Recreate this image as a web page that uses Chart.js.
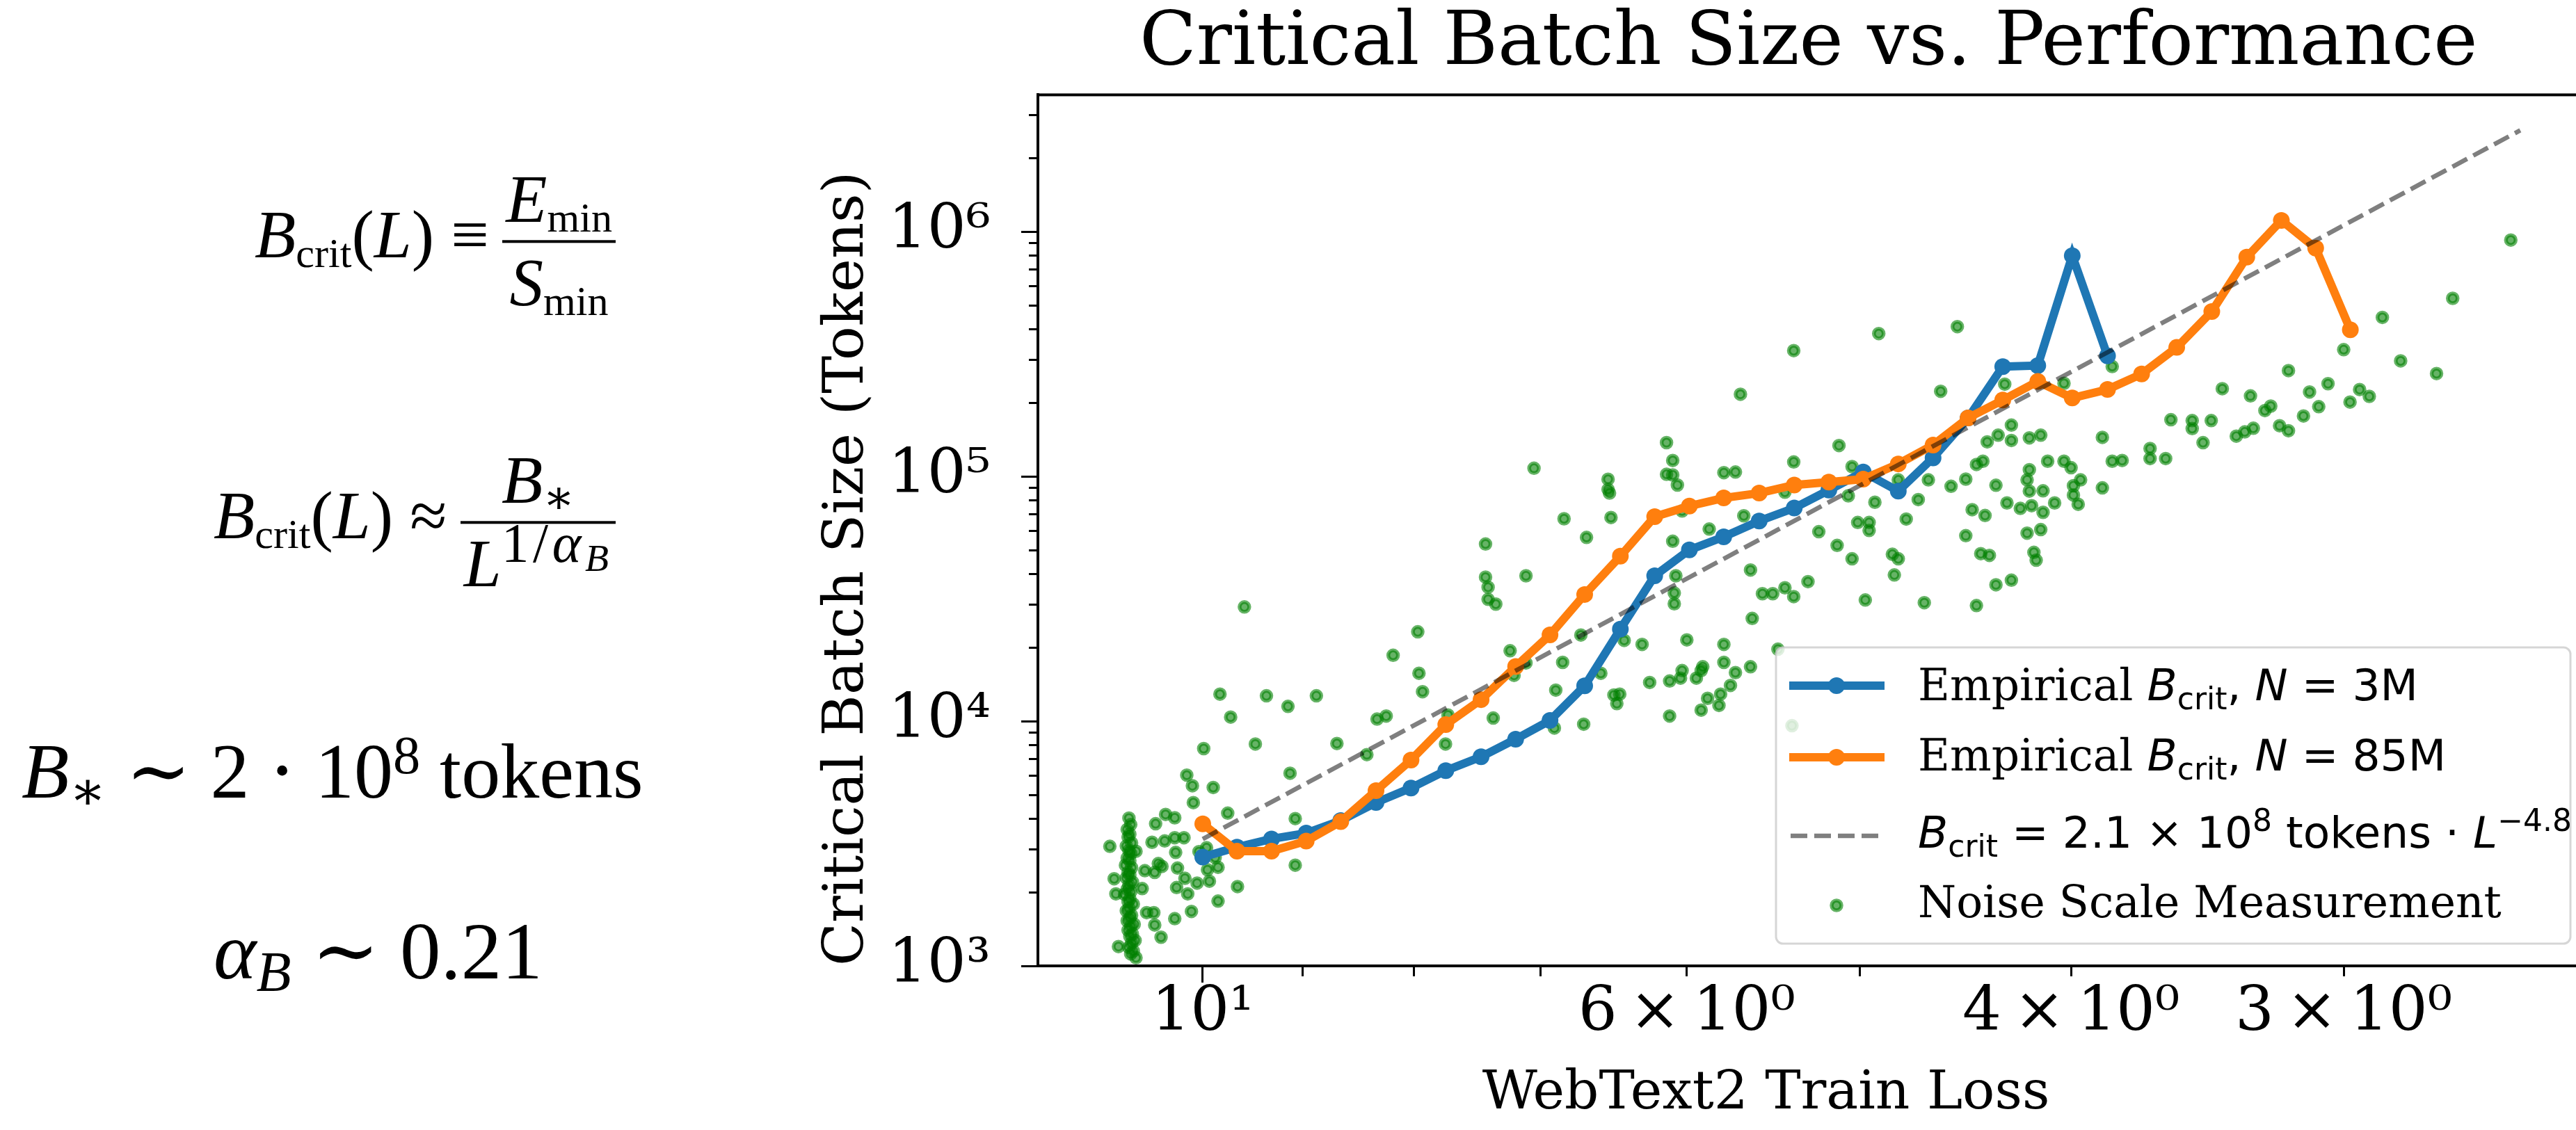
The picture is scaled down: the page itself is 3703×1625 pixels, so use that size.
<!DOCTYPE html>
<html>
<head>
<meta charset="utf-8">
<script src="https://cdn.jsdelivr.net/npm/chart.js@4.4.0/dist/chart.umd.min.js"></script>
<style>
html, body { margin:0; padding:0; background:#fff; width:3703px; height:1625px; overflow:hidden; }
#wrap { position:absolute; left:1150px; top:0; width:2570px; height:1625px; }
.eq { position:absolute; font-family:'Liberation Serif','DejaVu Serif',serif; font-size:112px; line-height:1; white-space:nowrap; color:#000; }
.eq.small { font-size:97px; }
.eq.big { font-size:117px; }
.eq sub, .eq sup { font-size:0.7em; line-height:0; }
.eq sub { vertical-align:-0.22em; }
.eq sup { vertical-align:0.45em; }
.eq .tight { font-size:0.62em; }
.eq .wide { font-size:0.82em; letter-spacing:0.07em; }
.row { display:flex; align-items:center; transform:translateY(-50%); }
.lhs { position:relative; top:-0.09em; }
.frac { display:inline-flex; flex-direction:column; align-items:center; margin-left:0.2em; }
.frac .bar { align-self:stretch; height:4px; background:#000; margin:0.1em 0; }
.frac > span { padding:0 0.05em; }
</style>
</head>
<body>
<div class="eq small row" style="left:366px; top:347px;">
  <span class="lhs"><i>B</i><sub class="tight">crit</sub>(<i>L</i>) &#8801;</span>
  <span class="frac"><span><i>E</i><sub class="tight">min</sub></span><span class="bar"></span><span><i>S</i><sub class="tight">min</sub></span></span>
</div>
<div class="eq small row" style="left:307px; top:751px;">
  <span class="lhs"><i>B</i><sub class="tight">crit</sub>(<i>L</i>) &#8776;</span>
  <span class="frac"><span><i>B</i><sub>&#8727;</sub></span><span class="bar"></span><span><i>L</i><sup class="wide">1/<i>&#945;</i><sub><i>B</i></sub></sup></span></span>
</div>
<div class="eq" style="left:31px; top:1053px;"><i>B</i><sub>&#8727;</sub> &#8764; 2 &#8901; 10<sup>8</sup> tokens</div>
<div class="eq big" style="left:307px; top:1309px;"><i>&#945;</i><sub><i>B</i></sub> &#8764; 0.21</div>

<div id="wrap"><canvas id="chart" width="2570" height="1625"></canvas></div>

<script>
// loss values shared by both empirical curves (x axis, reversed)
const lossGrid = [10.0, 9.645, 9.30, 8.966, 8.645, 8.329, 8.027, 7.738, 7.455, 7.188,
  6.932, 6.683, 6.436, 6.207, 5.984, 5.771, 5.559, 5.357, 5.165, 4.981,
  4.800, 4.627, 4.459, 4.299, 4.143, 3.995, 3.849, 3.713, 3.578, 3.448,
  3.323, 3.204, 3.090, 2.979];

// N = 3M
const blueBatch = [2784, 3055, 3303, 3488, 3925, 4652, 5335, 6281, 7157, 8448,
  10072, 13945, 23788, 39297, 50140, 56677, 65800, 74340, 88000, 104400,
  87230, 119200, 173600, 281400, 284200, 799000, 311100];

// N = 85M
const orangeBatch = [3808, 2944, 2944, 3238, 3885, 5205, 6941, 9683, 12250, 16723,
  22530, 32960, 47250, 68500, 75770, 81740, 85580, 92330, 94910, 97600,
  112600, 134500, 173600, 205300, 244700, 209400, 227000, 262400, 337000, 472600,
  788000, 1114000, 858000, 398100];

// fit line end points
const fitLoss = [10.0, 2.49];
const fitBatch = [3300, 2600000];

// noise scale measurements
const noiseLoss = [
  9.57, 7.97, 8.18, 7.96, 7.93, 9.82, 9.35, 9.14, 8.87, 9.71,
  8.32, 8.24, 9.99, 9.46, 8.68, 8.41, 7.74, 10.17, 10.11, 9.89,
  9.12, 10.10, 9.74, 9.07, 10.40, 10.30, 10.51, 11.03, 10.55, 10.41,
  10.30, 10.20, 10.73, 10.29, 10.48, 10.44, 10.52, 10.63, 10.27, 10.04,
  9.96, 9.87, 9.84, 9.95, 10.19, 9.93, 10.06, 10.98, 10.96, 10.28,
  10.16, 9.64, 9.07, 9.84, 10.12, 10.30, 10.66, 10.61, 10.53, 10.52,
  10.45, 10.93,
  10.81, 10.79, 10.83, 10.80, 10.82, 10.78, 10.84, 10.81, 10.79, 10.83,
  10.80, 10.85, 10.78, 10.82, 10.80, 10.84, 10.77, 10.81, 10.83, 10.79,
  10.86, 10.80, 10.82, 10.76, 10.81, 10.84, 10.78, 10.80, 10.83, 10.75,
  10.79, 10.82, 10.77, 10.80, 10.74, 10.78, 10.81, 10.76, 10.79, 10.73,
  5.67, 6.13, 6.09, 6.13, 6.09, 6.06, 5.77, 5.70, 5.36, 5.11,
  7.05, 6.52, 6.52, 6.51, 6.50, 6.83, 6.67, 7.42, 7.42, 7.40,
  7.40, 7.34, 7.11, 6.09, 5.86, 5.65, 5.41, 5.22, 5.12, 5.61,
  5.28, 5.54, 5.48, 5.41, 5.36, 5.60, 6.07, 6.08, 6.08, 6.03,
  7.23, 7.20, 7.11, 6.84, 6.71, 6.41, 6.29, 6.00, 5.77, 5.45,
  6.89, 6.57, 6.48, 6.44, 6.46, 6.24, 6.11, 6.03, 6.04, 5.94,
  5.91, 5.90, 5.77, 5.70, 5.61, 5.73, 5.79, 5.87, 5.80, 5.91,
  6.11, 6.69, 6.90, 7.36, 7.72, 5.37,
  4.90, 4.51, 4.59, 4.29, 4.03, 3.83, 5.04, 5.06, 4.92, 4.80,
  4.70, 4.65, 4.54, 4.47, 4.42, 4.39, 4.37, 4.32, 4.26, 4.26,
  4.18, 4.13, 4.33, 4.18, 4.19, 4.18, 4.12, 4.10, 4.03, 4.00,
  3.96, 3.99, 3.99, 3.97, 4.28, 4.22, 4.17, 4.12, 4.07, 4.44,
  4.38, 3.87, 3.87, 3.83, 3.79, 3.68, 3.68, 3.62, 3.60, 3.52,
  3.52, 3.45, 3.48, 3.41, 5.01, 4.95, 4.95, 5.04, 4.83, 4.80,
  4.82, 4.76, 4.97, 4.67, 4.42, 4.47, 4.40, 4.36, 4.19, 4.13,
  4.16, 4.15, 4.33, 4.26, 5.36,
  2.515, 2.674, 2.88, 3.00, 2.825, 2.72, 3.18, 3.31, 3.11, 3.05,
  2.95, 2.92, 2.98, 3.08, 3.13, 3.24, 3.26, 3.36, 3.33, 3.30,
  3.21, 3.18
];
const noiseBatch = [
  29300, 23200, 18600, 15700, 13200, 12900, 12700, 11500, 12700, 10400,
  10200, 10500, 7730, 8070, 8110, 7300, 8070, 6020, 5450, 5360,
  6130, 4650, 4210, 4000, 4160, 4030, 3810, 3080, 3200, 3240,
  3340, 3340, 2940, 2910, 2620, 2550, 2410, 2450, 2510, 2930,
  3040, 2770, 2530, 2470, 2280, 2220, 2180, 2270, 1970, 2090,
  1970, 2110, 2580, 1840, 1670, 1560, 2070, 1650, 1650, 1470,
  1310, 1200,
  4020, 3780, 3610, 3450, 3360, 3180, 3090, 2960, 2880, 2760,
  2690, 2580, 2520, 2410, 2350, 2290, 2200, 2140, 2060, 2010,
  1960, 1880, 1830, 1790, 1720, 1680, 1610, 1570, 1530, 1480,
  1450, 1400, 1350, 1320, 1270, 1240, 1190, 1150, 1120, 1080,
  217000, 137600, 116300, 102100, 101500, 92300, 103700, 104300, 114700, 133900,
  108100, 97500, 88600, 85600, 68000, 67200, 56400, 53000, 38800, 35300,
  31500, 30100, 39300, 54400, 61000, 69100, 86300, 59500, 52300, 41500,
  37200, 33200, 33200, 35100, 32300, 26300, 39300, 33400, 30200, 72300,
  19400, 15400, 17300, 17400, 22500, 21400, 20600, 21500, 20600, 19700,
  13400, 15700, 12800, 12900, 11800, 14400, 14600, 16100, 15000, 15000,
  16100, 16700, 17400, 15800, 16700, 14000, 12900, 12400, 11600, 11100,
  10500, 9720, 9380, 10300, 10600, 9590,
  384000, 410000, 223000, 238600, 240400, 281500, 109800, 83400, 78500, 96900,
  80500, 96900, 91200, 97600, 112000, 115500, 138600, 147600, 162300, 140400,
  143900, 147600, 92100, 106600, 96900, 87200, 87400, 115500, 115500, 108700,
  96900, 91700, 84000, 77000, 78000, 74100, 76000, 71400, 78000, 73200,
  69300, 144600, 89900, 115500, 116300, 130200, 118400, 118400, 170700, 169300,
  157000, 169300, 137500, 228600, 64900, 64900, 60200, 46100, 48100, 46100,
  39600, 67000, 31300, 30500, 29700, 57300, 48400, 47600, 58700, 60700,
  49000, 45500, 36100, 37700, 327000,
  926000, 535000, 447000, 330000, 297000, 263500, 271000, 213500, 221600, 239600,
  226800, 212600, 201600, 193000, 176800, 194000, 186000, 146300, 152200, 157500,
  161300, 153900
];

// ticks
const xTickValues = [10, 9, 8, 7, 6, 5, 4, 3];
const xTickLabels = ['10\u00b9', '', '', '', '6\u2009\u00d7\u200910\u2070', '', '4\u2009\u00d7\u200910\u2070', '3\u2009\u00d7\u200910\u2070'];
const yTickValues = [1e3, 2e3, 3e3, 4e3, 5e3, 6e3, 7e3, 8e3, 9e3,
  1e4, 2e4, 3e4, 4e4, 5e4, 6e4, 7e4, 8e4, 9e4,
  1e5, 2e5, 3e5, 4e5, 5e5, 6e5, 7e5, 8e5, 9e5,
  1e6, 2e6, 3e6];
const yMajorLabels = {1000: '10\u00b3', 10000: '10\u2074', 100000: '10\u2075', 1000000: '10\u2076'};

const legendRows = [
  {kind: 'line', color: '#1f77b4', parts: [['Empirical ', 'serif'], ['B', 'it'], ['crit', 'sub'], [', ', 'sans'], ['N', 'it'], [' = 3M', 'sans']]},
  {kind: 'line', color: '#ff7f0e', parts: [['Empirical ', 'serif'], ['B', 'it'], ['crit', 'sub'], [', ', 'sans'], ['N', 'it'], [' = 85M', 'sans']]},
  {kind: 'dash', color: 'rgba(0,0,0,0.5)', parts: [['B', 'it'], ['crit', 'sub'], [' = 2.1 \u00d7 10', 'sans'], ['8', 'sup'], [' tokens \u00b7 ', 'sans'], ['L', 'it'], ['\u22124.8', 'sup']]},
  {kind: 'dot', color: 'rgba(0,128,0,0.6)', parts: [['Noise Scale Measurement', 'serif']]}
];

function isDecade(v) {
  const l = Math.log10(v);
  return Math.abs(l - Math.round(l)) < 1e-9;
}

const partFonts = {
  serif: {font: '63px "DejaVu Serif"', dy: 0},
  sans: {font: '63px "DejaVu Sans"', dy: 0},
  it: {font: 'italic 63px "DejaVu Sans"', dy: 0},
  sub: {font: '44px "DejaVu Sans"', dy: 13},
  sup: {font: '44px "DejaVu Sans"', dy: -24}
};

// axes frame drawn over the data like matplotlib spines
const framePlugin = {
  id: 'frame',
  afterDatasetsDraw(chart) {
    const a = chart.chartArea, c = chart.ctx;
    c.save();
    c.strokeStyle = '#000';
    c.lineWidth = 4;
    c.strokeRect(a.left, a.top, a.right - a.left, a.bottom - a.top);
    c.restore();
  }
};

const legendPlugin = {
  id: 'insideLegend',
  afterDraw(chart) {
    const c = chart.ctx;
    const boxX = 1403, boxY = 931, boxW = 1142, boxH = 426;
    const handleY = [986, 1089, 1202, 1302];
    const baseY = [1007, 1108, 1219, 1319];
    c.save();
    c.beginPath();
    c.roundRect(boxX, boxY, boxW, boxH, 10);
    c.fillStyle = 'rgba(255,255,255,0.8)';
    c.fill();
    c.lineWidth = 3;
    c.strokeStyle = 'rgba(204,204,204,0.8)';
    c.stroke();

    legendRows.forEach((row, i) => {
      const y = handleY[i];
      if (row.kind === 'line') {
        c.strokeStyle = row.color;
        c.lineWidth = 12;
        c.beginPath(); c.moveTo(1422, y); c.lineTo(1559, y); c.stroke();
        c.fillStyle = row.color;
        c.beginPath(); c.arc(1490, y, 12, 0, Math.PI * 2); c.fill();
      } else if (row.kind === 'dash') {
        c.strokeStyle = row.color;
        c.lineWidth = 6.5;
        c.setLineDash([24, 10]);
        c.beginPath(); c.moveTo(1424, y); c.lineTo(1556, y); c.stroke();
        c.setLineDash([]);
      } else {
        c.fillStyle = row.color;
        c.strokeStyle = row.color;
        c.lineWidth = 5.5;
        c.beginPath(); c.arc(1490, y, 7, 0, Math.PI * 2); c.fill(); c.stroke();
      }
      let x = 1607;
      c.fillStyle = '#000';
      c.textBaseline = 'alphabetic';
      c.textAlign = 'left';
      row.parts.forEach(([t, k]) => {
        const f = partFonts[k];
        c.font = f.font;
        c.fillText(t, x, baseY[i] + f.dy);
        x += c.measureText(t).width;
      });
    });
    c.restore();
  }
};

Chart.defaults.font.family = '"DejaVu Serif"';
Chart.defaults.color = '#000';

const tickFont = {family: '"DejaVu Serif"', size: 88, lineHeight: 1};

new Chart(document.getElementById('chart').getContext('2d'), {
  type: 'scatter',
  data: {
    datasets: [
      {
        label: 'fit',
        data: fitLoss.map((x, i) => ({x: x, y: fitBatch[i]})),
        showLine: true,
        borderColor: 'rgba(0,0,0,0.5)',
        borderWidth: 6.5,
        borderDash: [24, 10],
        pointRadius: 0,
        order: 0
      },
      {
        label: 'N = 85M',
        data: orangeBatch.map((y, i) => ({x: lossGrid[i], y: y})),
        showLine: true,
        borderColor: '#ff7f0e',
        backgroundColor: '#ff7f0e',
        borderWidth: 12,
        pointRadius: 12,
        pointBorderWidth: 0,
        order: 1
      },
      {
        label: 'N = 3M',
        data: blueBatch.map((y, i) => ({x: lossGrid[i], y: y})),
        showLine: true,
        borderColor: '#1f77b4',
        backgroundColor: '#1f77b4',
        borderWidth: 12,
        pointRadius: 12,
        pointBorderWidth: 0,
        order: 2
      },
      {
        label: 'Noise Scale Measurement',
        data: noiseBatch.map((y, i) => ({x: noiseLoss[i], y: y})),
        showLine: false,
        backgroundColor: 'rgba(0,128,0,0.6)',
        borderColor: 'rgba(0,128,0,0.6)',
        pointRadius: 7,
        pointBorderWidth: 5.5,
        order: 3
      }
    ]
  },
  options: {
    responsive: false,
    animation: false,
    devicePixelRatio: 1,
    layout: {padding: {left: 0, right: 10, top: 0, bottom: 0}},
    plugins: {
      legend: {display: false},
      tooltip: {enabled: false},
      title: {
        display: true,
        text: 'Critical Batch Size vs. Performance',
        fullSize: false,
        color: '#000',
        font: {family: '"DejaVu Serif"', size: 107, weight: 'normal', lineHeight: 1.2},
        padding: {top: 0, bottom: 8}
      }
    },
    scales: {
      x: {
        type: 'logarithmic',
        reverse: true,
        min: 2.34,
        max: 11.9,
        afterFit: s => { s.height = 236; },
        afterBuildTicks: s => { s.ticks = xTickValues.map(v => ({value: v})); },
        ticks: {
          autoSkip: false,
          maxRotation: 0,
          padding: 1,
          font: tickFont,
          color: '#000',
          callback: (v, i) => xTickLabels[i]
        },
        grid: {
          drawOnChartArea: false,
          tickLength: 24,
          tickWidth: 3,
          tickColor: '#000',
          tickBorderDash: c => (c.tick && c.tick.value === 10) ? [] : [13, 100]
        },
        border: {display: true, color: '#000', width: 4},
        title: {
          display: true,
          // trailing no-break spaces keep the label centred where the original sits
          text: 'WebText2 Train Loss\u00a0\u00a0\u00a0\u00a0\u00a0',
          font: {family: '"DejaVu Serif"', size: 77, lineHeight: 1.2},
          color: '#000',
          padding: {top: 0, bottom: 5}
        }
      },
      y: {
        type: 'logarithmic',
        min: 1000,
        max: 3630000,
        afterFit: s => { s.width = 342; },
        afterBuildTicks: s => { s.ticks = yTickValues.map(v => ({value: v})); },
        ticks: {
          autoSkip: false,
          padding: 44,
          font: tickFont,
          color: '#000',
          callback: v => yMajorLabels[v] || ''
        },
        grid: {
          drawOnChartArea: false,
          tickLength: 24,
          tickWidth: 3,
          tickColor: '#000',
          tickBorderDash: c => (c.tick && isDecade(c.tick.value)) ? [] : [13, 100],
          tickBorderDashOffset: c => (c.tick && isDecade(c.tick.value)) ? 0 : 102
        },
        border: {display: true, color: '#000', width: 4},
        title: {
          display: true,
          text: 'Critical Batch Size (Tokens)',
          align: 'start',
          font: {family: '"DejaVu Serif"', size: 81, lineHeight: 1.2},
          color: '#000',
          padding: {top: 20, bottom: 0}
        }
      }
    }
  },
  plugins: [framePlugin, legendPlugin]
});
</script>
</body>
</html>
